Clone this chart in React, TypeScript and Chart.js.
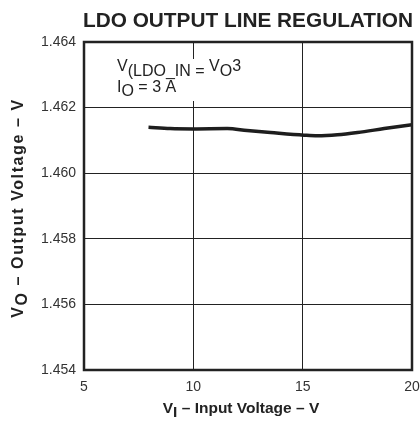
import React, { useEffect, useRef } from "react";
import { Chart, registerables } from "chart.js";

Chart.register(...registerables);

const inputVoltage = [7.95, 8.94, 10.0, 11.55, 12.46, 13.53, 15.06, 15.67, 16.59, 17.51, 18.73, 20.0];
const outputVoltage = [1.4614, 1.46136, 1.46135, 1.46136, 1.4613, 1.46124, 1.46116, 1.46114, 1.46117, 1.46124, 1.46136, 1.46148];
const xTicks = [5, 10, 15, 20];
const yTicks = [1.454, 1.456, 1.458, 1.46, 1.462, 1.464];
const titleText = "LDO OUTPUT LINE REGULATION";

const FONT = "'Liberation Sans', Arial, Helvetica, sans-serif";

type Seg = { t: string; sub?: boolean };

function drawSegs(
  ctx: CanvasRenderingContext2D,
  segs: Seg[],
  x: number,
  y: number,
  font: string,
  subShift: number,
  align: "left" | "center",
  spacing = 0
) {
  ctx.font = font;
  (ctx as any).letterSpacing = spacing + "px";
  let total = 0;
  for (const s of segs) total += ctx.measureText(s.t).width;
  let cx = align === "center" ? x - total / 2 : x;
  ctx.textAlign = "left";
  ctx.textBaseline = "alphabetic";
  for (const s of segs) {
    ctx.fillText(s.t, cx, y + (s.sub ? subShift : 0));
    cx += ctx.measureText(s.t).width;
  }
  (ctx as any).letterSpacing = "0px";
}

const decorPlugin = {
  id: "decor",
  afterDraw(chart: any) {
    const { ctx, chartArea } = chart;
    const { left, right, top, bottom } = chartArea;
    ctx.save();
    // annotation box + text
    ctx.fillStyle = "#ffffff";
    ctx.fillRect(110, 59, 140, 42);
    ctx.fillStyle = "#222";
    const f = `16px ${FONT}`;
    drawSegs(ctx, [{ t: "V" }, { t: "(LDO_IN = ", sub: true }, { t: "V" }, { t: "O", sub: true }, { t: "3" }], 117, 71, f, 5, "left");
    drawSegs(ctx, [{ t: "I" }, { t: "O", sub: true }, { t: " = 3 A" }], 117, 92, f, 4, "left");
    // border
    ctx.strokeStyle = "#222";
    ctx.lineWidth = 2.5;
    ctx.strokeRect(left, top, right - left, bottom - top);
    // title
    ctx.fillStyle = "#222";
    drawSegs(ctx, [{ t: titleText }], (left + right) / 2, 27, `bold 20.8px ${FONT}`, 0, "center");
    // x axis title
    drawSegs(ctx, [{ t: "V" }, { t: "I", sub: true }, { t: " – Input Voltage – V" }], (left + right) / 2 - 7, 413, `bold 15.5px ${FONT}`, 4, "center");
    // y axis title
    ctx.translate(23, (top + bottom) / 2 + 2);
    ctx.rotate(-Math.PI / 2);
    drawSegs(ctx, [{ t: "V" }, { t: "O", sub: true }, { t: " – Output Voltage – V" }], 0, 0, `bold 16px ${FONT}`, 4, "center", 1.6);
    ctx.restore();
  },
};

export default function App() {
  const ref = useRef<HTMLCanvasElement | null>(null);
  useEffect(() => {
    if (!ref.current) return;
    const chart = new Chart(ref.current, {
      type: "line",
      data: {
        datasets: [
          {
            data: inputVoltage.map((x, i) => ({ x, y: outputVoltage[i] })),
            borderColor: "#1e1e1e",
            borderWidth: 3.5,
            pointRadius: 0,
            tension: 0.4,
            cubicInterpolationMode: "monotone",
            fill: false,
          },
        ],
      },
      options: {
        animation: false,
        responsive: false,
        devicePixelRatio: 1,
        layout: { padding: { top: 42, right: 1, left: 0, bottom: 0 } },
        plugins: { legend: { display: false }, tooltip: { enabled: false }, title: { display: false } },
        scales: {
          x: {
            type: "linear",
            min: 5,
            max: 20,
            afterBuildTicks: (s: any) => { s.ticks = xTicks.map((v) => ({ value: v })); },
            afterFit: (s: any) => { s.height = 52; s.paddingRight = 8; s.paddingLeft = 0; },
            ticks: { color: "#333", font: { family: FONT, size: 14 }, padding: 9, maxRotation: 0 },
            grid: { color: "#222", lineWidth: 1, drawTicks: false },
            border: { display: false },
          },
          y: {
            type: "linear",
            min: 1.454,
            max: 1.464,
            afterBuildTicks: (s: any) => { s.ticks = yTicks.map((v) => ({ value: v })); },
            afterFit: (s: any) => { s.width = 84; s.paddingTop = 0; s.paddingBottom = 0; },
            ticks: { color: "#333", font: { family: FONT, size: 14 }, padding: 8, callback: (v: any) => Number(v).toFixed(3) },
            grid: { color: "#222", lineWidth: 1, drawTicks: false },
            border: { display: false },
          },
        },
      },
      plugins: [decorPlugin],
    } as any);
    return () => chart.destroy();
  }, []);
  return (
    <div style={{ position: "fixed", left: 0, top: 0, width: 420, height: 422, background: "#fff" }}>
      <canvas ref={ref} width={420} height={422} style={{ display: "block" }} />
    </div>
  );
}
